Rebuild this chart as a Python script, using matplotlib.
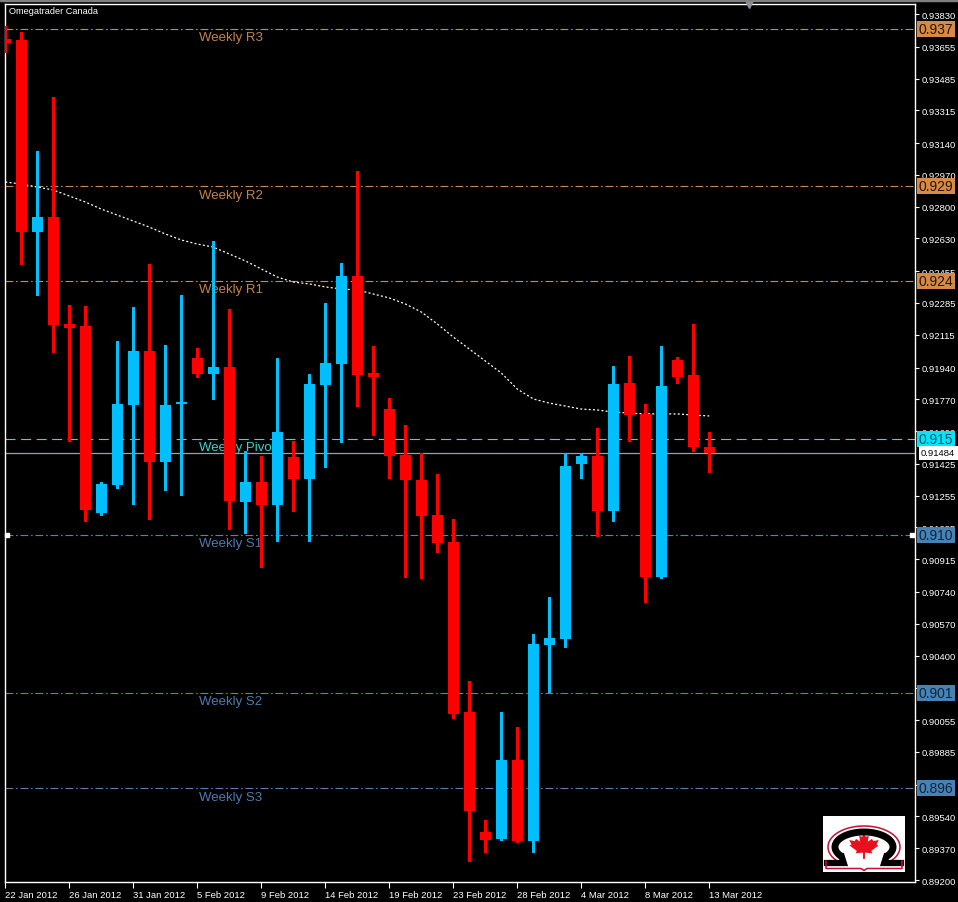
import matplotlib
matplotlib.use('Agg')
import matplotlib.pyplot as plt
from matplotlib.patches import Rectangle, Polygon
from matplotlib import transforms
import numpy as np

plt.rcParams['font.family'] = ['Liberation Sans', 'DejaVu Sans']

# ---------------- data ----------------
tick_labels = ['22 Jan 2012', '26 Jan 2012', '31 Jan 2012', '5 Feb 2012', '9 Feb 2012',
               '14 Feb 2012', '19 Feb 2012', '23 Feb 2012', '28 Feb 2012', '4 Mar 2012',
               '8 Mar 2012', '13 Mar 2012']

opens = [0.93696, 0.93691, 0.92666, 0.92746, 0.92173, 0.92160, 0.91162, 0.91314, 0.91741, 0.92030,
         0.91433, 0.91745, 0.91991, 0.91905, 0.91944, 0.91221, 0.91328, 0.91207, 0.91460, 0.91344,
         0.91848, 0.91959, 0.92431, 0.91911, 0.91718, 0.91472, 0.91339, 0.91152, 0.91009, 0.90100,
         0.89455, 0.89420, 0.89844, 0.89410, 0.90458, 0.90489, 0.91424, 0.91469, 0.91173, 0.91857,
         0.91692, 0.90822, 0.91982, 0.91902, 0.91517]
closes = [0.93675, 0.92665, 0.92746, 0.92169, 0.92151, 0.91180, 0.91317, 0.91745, 0.92030, 0.91433,
          0.91741, 0.91754, 0.91905, 0.91944, 0.91228, 0.91328, 0.91207, 0.91597, 0.91344, 0.91852,
          0.91964, 0.92431, 0.91900, 0.91889, 0.91465, 0.91339, 0.91148, 0.91002, 0.90088, 0.89571,
          0.89416, 0.89844, 0.89410, 0.90462, 0.90494, 0.91415, 0.91469, 0.91173, 0.91852, 0.91686,
          0.90822, 0.91843, 0.91891, 0.91517, 0.91484]
highs = [0.93766, 0.93734, 0.93098, 0.93386, 0.92276, 0.92271, 0.91330, 0.92083, 0.92262, 0.92493,
         0.92060, 0.92329, 0.92042, 0.92618, 0.92253, 0.91494, 0.91465, 0.91991, 0.91549, 0.91905,
         0.92285, 0.92499, 0.92991, 0.92054, 0.91777, 0.91633, 0.91481, 0.91371, 0.91130, 0.90266,
         0.89523, 0.90100, 0.90017, 0.90515, 0.90715, 0.91483, 0.91481, 0.91615, 0.91950, 0.92003,
         0.91745, 0.92057, 0.91995, 0.92173, 0.91594]
lows = [0.93627, 0.92493, 0.92329, 0.92023, 0.91549, 0.91121, 0.91152, 0.91294, 0.91210, 0.91130,
        0.91287, 0.91260, 0.91887, 0.91772, 0.91077, 0.91055, 0.90874, 0.91014, 0.91175, 0.91014,
        0.91407, 0.91540, 0.91736, 0.91579, 0.91348, 0.90819, 0.90813, 0.90952, 0.90065, 0.89302,
        0.89352, 0.89414, 0.89402, 0.89348, 0.90204, 0.90448, 0.91349, 0.91038, 0.91121, 0.91549,
        0.90688, 0.90813, 0.91857, 0.91492, 0.91380]
moving_avg = [0.92932, 0.92921, 0.92905, 0.92889, 0.92857, 0.92825, 0.92787, 0.92755, 0.92723, 0.92691,
              0.92654, 0.92622, 0.92600, 0.92584, 0.92547, 0.92510, 0.92467, 0.92424, 0.92397, 0.92387,
              0.92371, 0.92360, 0.92355, 0.92333, 0.92312, 0.92280, 0.92237, 0.92173, 0.92103, 0.92039,
              0.91975, 0.91911, 0.91825, 0.91772, 0.91750, 0.91734, 0.91718, 0.91713, 0.91702, 0.91697,
              0.91692, 0.91692, 0.91692, 0.91686, 0.91681]

level_names = ['Weekly R3', 'Weekly R2', 'Weekly R1', 'Weekly Pivot', 'Weekly S1', 'Weekly S2', 'Weekly S3']
level_values = [0.93750, 0.92910, 0.92403, 0.91558, 0.91045, 0.90200, 0.89692]
level_tags = ['0.937', '0.929', '0.924', '0.915', '0.910', '0.901', '0.896']
last_price = 0.91484

yticks = [0.93830, 0.93655, 0.93485, 0.93315, 0.93140, 0.92970, 0.92800, 0.92630, 0.92455, 0.92285,
          0.92115, 0.91940, 0.91770, 0.91600, 0.91425, 0.91255, 0.91085, 0.90915, 0.90740, 0.90570,
          0.90400, 0.90225, 0.90055, 0.89885, 0.89710, 0.89540, 0.89370, 0.89200]

# ---------------- styles ----------------
BULL = '#00BFFF'
BEAR = '#FF0000'
R_LINE, R_TEXT, R_BOX, R_BOXTXT = '#c98a58', '#c4834c', '#d58a46', '#2a1400'
P_LINE, P_TEXT, P_BOX, P_BOXTXT = '#3fd8d0', '#3fd0d0', '#00e6f6', '#08506a'
S_LINE, S_TEXT, S_BOX, S_BOXTXT = '#5c80aa', '#4f7aae', '#4682b4', '#10253a'

W, H = 958, 903
fig = plt.figure(figsize=(W / 100, H / 100), dpi=100, facecolor='black')
ax = fig.add_axes([5 / W, 20 / H, 910 / W, 878 / H], facecolor='black')

n = len(opens)
x = np.arange(n)
o = np.array(opens); c = np.array(closes); hi = np.array(highs); lo = np.array(lows)
colors = [BULL if cc >= oo else BEAR for oo, cc in zip(o, c)]

ax.set_xlim(-0.02, 56.86)
ax.set_ylim(0.891895, 0.938835)

# level lines and names
for name, v in zip(level_names, level_values):
    if name.endswith('Pivot'):
        lc, tc, ls = P_LINE, P_TEXT, (0, (9, 5))
    elif 'R' in name.split()[-1]:
        lc, tc, ls = R_LINE, R_TEXT, (0, (7, 2.5, 1.5, 2.5))
    else:
        lc, tc, ls = S_LINE, S_TEXT, (0, (7, 2.5, 1.5, 2.5))
    ax.axhline(v, color=lc, lw=0.8, ls=ls, zorder=1)
    off = transforms.offset_copy(ax.transData, fig=fig, x=0, y=-2.5, units='dots')
    ax.text(12.1, v, name, color=tc, fontsize=9.5, ha='left', va='top', transform=off, zorder=1.2)

ax.axhline(last_price, color='#9aa0a8', lw=0.9, zorder=1.1)

# moving average
ax.plot(x, moving_avg, color='white', lw=0.9, ls=(0, (1.6, 1.8)), zorder=2)

# candles
ax.vlines(x, lo, hi, colors=colors, lw=1.0, zorder=3, antialiased=False)
body_bottom = np.minimum(o, c)
body_h = np.maximum(np.abs(c - o), 0.00008)
ax.bar(x, body_h, bottom=body_bottom, width=0.68, color=colors, linewidth=0, zorder=4)

# axes styling
for sp in ax.spines.values():
    sp.set_color('white')
    sp.set_linewidth(1)
ax.yaxis.tick_right()
ax.set_yticks(yticks)
ax.set_yticklabels([f'{t:.5f}' for t in yticks])
ax.tick_params(axis='y', colors='white', length=3, width=0.8, pad=2, labelsize=6.8, direction='out')
ax.set_xticks(np.arange(0, n, 4))
ax.set_xticklabels(tick_labels)
for lab in ax.get_xticklabels():
    lab.set_ha('left')
ax.tick_params(axis='x', colors='white', length=4, width=0.8, pad=2, labelsize=6.8, direction='out')

# right-hand price tags
ytr = ax.get_yaxis_transform()
for name, v, tag in zip(level_names, level_values, level_tags):
    if name.endswith('Pivot'):
        bc, btc = P_BOX, P_BOXTXT
    elif 'R' in name.split()[-1]:
        bc, btc = R_BOX, R_BOXTXT
    else:
        bc, btc = S_BOX, S_BOXTXT
    ax.text(1.0042, v, tag, transform=ytr, ha='left', va='center', fontsize=10, color=btc,
            bbox=dict(boxstyle='square,pad=0.1', fc=bc, ec='none'), clip_on=False, zorder=10)
ax.text(1.0066, last_price, f'{last_price:.5f}', transform=ytr, ha='left', va='center', fontsize=6.8,
        color='black', bbox=dict(boxstyle='square,pad=0.25', fc='white', ec='none'),
        clip_on=False, zorder=11)

# anchor squares of the S1 line and chart shift marker
ax.plot([0.1, 56.7], [level_values[4]] * 2, ls='none', marker='s', ms=3, color='white',
        clip_on=False, zorder=12)
ax.plot([46.5], [0.938835], marker='v', ms=6, color='#8a8f99', clip_on=False, zorder=12)

# title
fig.text(9 / W, 1 - 11 / H, 'Omegatrader Canada', color='white', fontsize=6.6, va='center', ha='left')
fig.patches.append(Rectangle((0, 1 - 2 / H), 1, 2 / H, transform=fig.transFigure,
                             color='#808080', zorder=5))

# logo
lg = fig.add_axes([823 / W, (H - 873) / H, 82 / W, 56 / H], facecolor='white')
lg.set_xlim(0, 82); lg.set_ylim(0, 56)
lg.set_xticks([]); lg.set_yticks([])
for sp in lg.spines.values():
    sp.set_visible(False)
t = np.linspace(np.radians(-40), np.radians(220), 120)
lg.plot(41 + 36 * np.cos(t), 25 + 21 * np.sin(t), color='#c8102e', lw=1.1)
lg.plot(41 + 29 * np.cos(t), 25 + 15 * np.sin(t), color='black', lw=5, solid_capstyle='butt')
ex = 41 + 29 * np.cos(np.radians(-40)); ey = 25 + 15 * np.sin(np.radians(-40))
lg.plot([ex, ex - 2, 78], [ey, 9, 9], color='black', lw=4.5, solid_joinstyle='miter')
lg.plot([82 - ex, 84 - ex, 4], [ey, 9, 9], color='black', lw=4.5, solid_joinstyle='miter')
lg.plot([3, 3, 38, 41, 44, 79, 79], [11, 3.5, 3.5, 1.5, 3.5, 3.5, 11], color='#c8102e', lw=1.1)
leaf = [(0, 1), (0.12, 0.72), (0.3, 0.8), (0.24, 0.38), (0.5, 0.58), (0.58, 0.42), (0.92, 0.5),
        (0.78, 0.18), (0.9, 0.1), (0.45, -0.28), (0.52, -0.45), (0.06, -0.4), (0.06, -0.85),
        (-0.06, -0.85), (-0.06, -0.4), (-0.52, -0.45), (-0.45, -0.28), (-0.9, 0.1), (-0.78, 0.18),
        (-0.92, 0.5), (-0.58, 0.42), (-0.5, 0.58), (-0.24, 0.38), (-0.3, 0.8), (-0.12, 0.72)]
lg.add_patch(Polygon([(41 + 16 * a, 25 + 14 * b) for a, b in leaf], closed=True, fc='#e8101c', ec='none'))

fig.savefig('out.png', dpi=100, facecolor='black')
